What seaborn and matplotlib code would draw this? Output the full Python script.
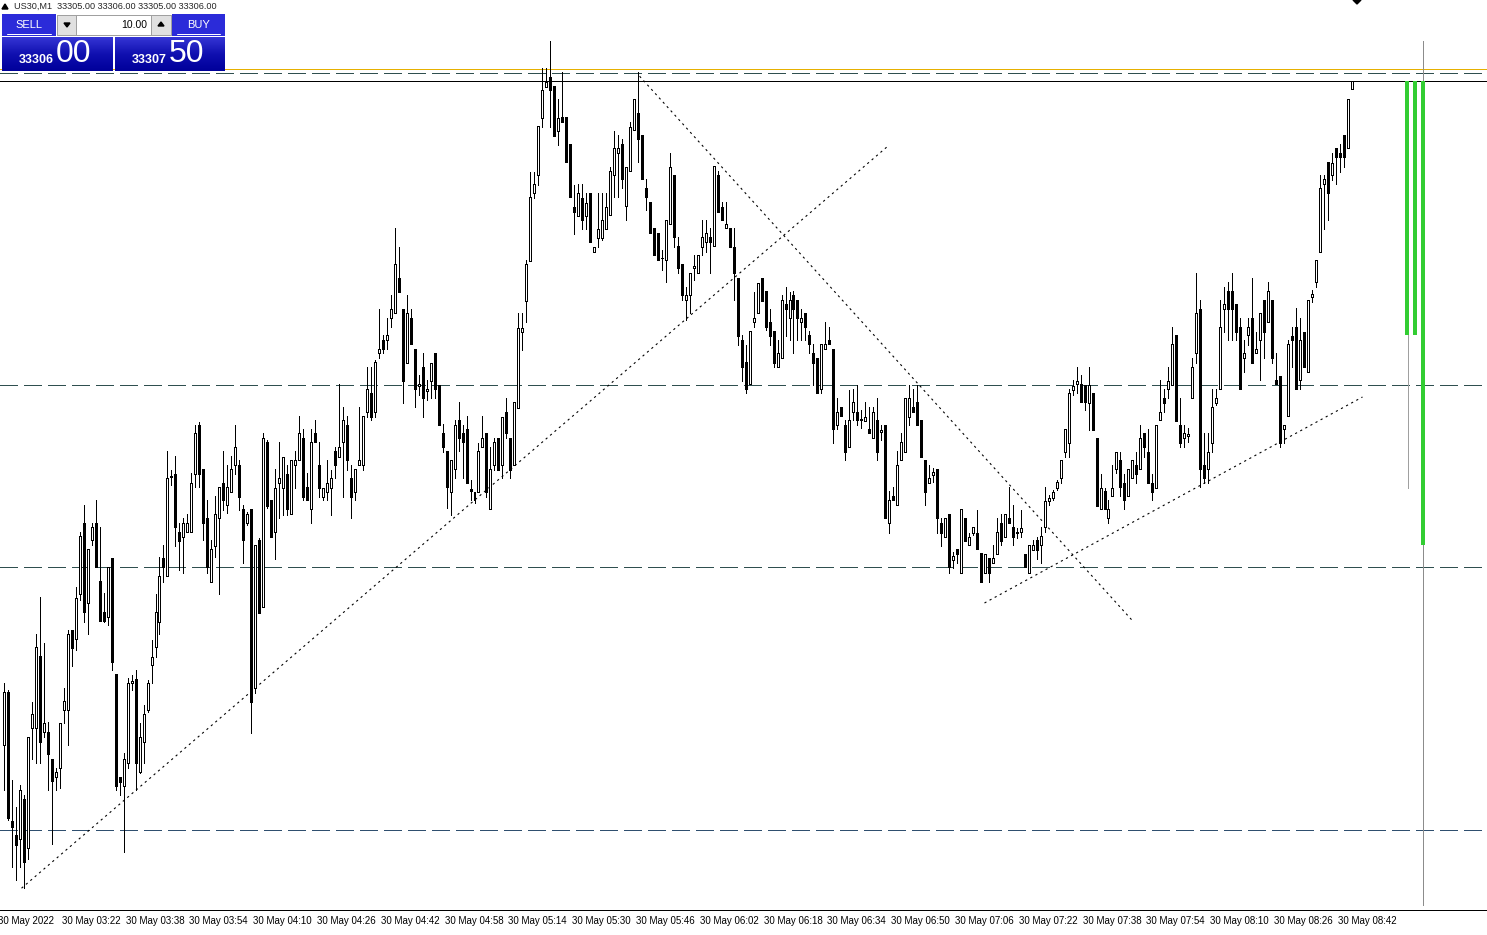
import numpy as np
import pandas as pd
import matplotlib
matplotlib.use("Agg")
import matplotlib.pyplot as plt
import seaborn as sns
from matplotlib.patches import Rectangle, Polygon
from matplotlib.transforms import ScaledTranslation
from matplotlib.colors import LinearSegmentedColormap

# ---------------- data ----------------
symbol = "US30,M1"
header_ohlc = ["33305.00", "33306.00", "33305.00", "33306.00"]
lot_size = "10.00"
bid_big, bid_small = "00", "33306"
ask_big, ask_small = "50", "33307"
bid_price = 33306.00
ask_price = 33307.50

open_ = [
    33223.0, 33229.6, 33213.5, 33211.8, 33211.3, 33216.3, 33210.1, 33225.1, 33225.1, 33234.1,
    33224.6, 33224.6, 33221.3, 33219.0, 33220.1, 33227.4, 33227.4, 33237.4, 33236.3, 33241.9,
    33250.8, 33240.8, 33248.6, 33250.8, 33243.5, 33239.6, 33239.0, 33246.4, 33231.9, 33219.0,
    33217.9, 33220.8, 33230.8, 33231.3, 33219.6, 33223.4, 33227.4, 33233.0, 33235.3, 33238.4,
    33246.4, 33244.1, 33256.5, 33256.9, 33249.6, 33249.0, 33249.6, 33249.6, 33256.9, 33263.0,
    33257.5, 33251.4, 33243.4, 33247.9, 33251.4, 33255.8, 33253.0, 33254.6, 33258.0, 33258.0,
    33252.5, 33250.8, 33252.5, 33230.1, 33248.6, 33240.3, 33260.9, 33253.6, 33249.6, 33255.8,
    33255.1, 33256.9, 33251.9, 33258.0, 33258.6, 33261.4, 33255.3, 33252.5, 33262.0, 33258.0,
    33254.0, 33254.6, 33255.1, 33259.8, 33259.0, 33260.9, 33263.0, 33256.4, 33254.6, 33258.0,
    33258.0, 33264.6, 33267.0, 33264.6, 33272.0, 33273.6, 33273.6, 33276.4, 33277.0, 33281.4,
    33277.5, 33270.8, 33276.4, 33272.5, 33267.9, 33270.3, 33267.3, 33268.5, 33272.0, 33268.0,
    33262.0, 33259.8, 33254.6, 33257.5, 33263.6, 33262.0, 33262.5, 33255.0, 33254.6, 33254.6,
    33260.3, 33262.0, 33252.5, 33258.0, 33261.4, 33258.0, 33264.6, 33261.4, 33258.0, 33265.1,
    33274.6, 33278.5, 33283.5, 33292.0, 33294.3, 33301.4, 33305.3, 33306.5, 33305.4, 33299.8,
    33301.5, 33301.5, 33298.1, 33290.3, 33289.1, 33291.4, 33289.1, 33292.0, 33284.6, 33286.4,
    33286.4, 33287.5, 33289.3, 33294.3, 33297.0, 33298.1, 33290.4, 33294.8, 33299.9, 33302.0,
    33299.3, 33292.6, 33290.9, 33287.6, 33287.0, 33283.9, 33283.6, 33288.1, 33294.3, 33285.4,
    33283.1, 33278.6, 33279.3, 33282.6, 33282.0, 33285.3, 33285.9, 33286.5, 33285.4, 33294.3,
    33290.3, 33287.6, 33287.6, 33285.3, 33281.4, 33273.6, 33270.9, 33268.1, 33275.9, 33277.0,
    33281.4, 33279.8, 33275.9, 33274.8, 33270.3, 33271.4, 33278.1, 33276.4, 33279.3, 33278.6,
    33275.9, 33277.0, 33274.3, 33272.0, 33271.4, 33267.5, 33272.5, 33273.6, 33272.5, 33263.0,
    33265.3, 33263.0, 33260.3, 33264.6, 33264.6, 33263.6, 33263.5, 33262.5, 33261.4, 33263.6,
    33262.1, 33263.0, 33250.8, 33254.1, 33253.0, 33258.6, 33259.6, 33264.0, 33265.3, 33265.9,
    33263.6, 33258.6, 33255.8, 33256.8, 33257.5, 33250.8, 33249.0, 33251.9, 33246.1, 33247.5,
    33244.5, 33251.4, 33248.0, 33249.5, 33249.5, 33247.0, 33244.5, 33246.4, 33245.8, 33246.9,
    33250.8, 33249.0, 33251.4, 33250.3, 33249.5, 33249.6, 33246.9, 33244.5, 33247.4, 33248.6,
    33248.0, 33250.3, 33253.5, 33253.9, 33255.1, 33256.4, 33259.6, 33260.8, 33267.4, 33268.1,
    33268.1, 33268.0, 33265.8, 33267.0, 33261.4, 33252.5, 33254.8, 33251.4, 33254.1, 33257.5,
    33258.6, 33255.8, 33254.1, 33256.4, 33258.0, 33257.5, 33262.0, 33259.6, 33255.8, 33255.1,
    33263.6, 33266.4, 33267.5, 33268.0, 33274.3, 33263.0, 33261.4, 33261.6, 33266.4, 33272.0,
    33277.5, 33258.0, 33257.5, 33260.8, 33265.8, 33267.5, 33277.5, 33279.8, 33279.8, 33278.1,
    33275.3, 33271.4, 33274.3, 33276.4, 33272.0, 33273.6, 33278.6, 33275.9, 33278.6, 33268.6,
    33269.1, 33262.5, 33264.1, 33274.1, 33275.3, 33268.6, 33274.6, 33269.6, 33279.0, 33280.9,
    33284.6, 33293.1, 33295.9, 33294.3, 33297.6, 33297.0, 33299.3, 33297.6, 33305.0,
]
high = [
    33230.8, 33229.9, 33218.6, 33215.3, 33218.0, 33216.8, 33224.0, 33228.4, 33236.9, 33241.5,
    33235.8, 33225.9, 33221.3, 33220.1, 33225.8, 33230.1, 33237.4, 33237.4, 33242.8, 33249.6,
    33253.0, 33247.5, 33250.8, 33253.6, 33250.3, 33242.0, 33245.3, 33246.4, 33231.9, 33219.0,
    33222.0, 33231.4, 33231.8, 33232.4, 33225.8, 33228.0, 33231.1, 33236.1, 33241.9, 33246.5,
    33248.0, 33259.8, 33257.4, 33259.1, 33250.8, 33251.4, 33251.9, 33257.0, 33263.0, 33263.4,
    33257.5, 33253.6, 33248.6, 33254.1, 33255.3, 33259.8, 33258.0, 33259.1, 33263.0, 33258.6,
    33253.0, 33252.1, 33252.5, 33248.0, 33248.9, 33262.0, 33261.1, 33253.6, 33257.5, 33260.9,
    33259.0, 33258.0, 33258.6, 33259.8, 33264.1, 33262.5, 33257.0, 33262.5, 33263.6, 33260.9,
    33255.1, 33258.6, 33257.4, 33260.3, 33268.1, 33265.3, 33264.1, 33258.0, 33257.5, 33265.3,
    33264.1, 33270.3, 33270.3, 33271.1, 33277.5, 33274.3, 33276.4, 33279.3, 33287.6, 33285.3,
    33277.5, 33279.3, 33277.5, 33272.5, 33269.3, 33272.0, 33268.6, 33270.8, 33272.0, 33268.0,
    33263.1, 33259.8, 33258.6, 33263.6, 33265.9, 33263.0, 33264.1, 33256.1, 33254.6, 33260.8,
    33264.1, 33262.0, 33260.3, 33261.4, 33261.4, 33264.0, 33266.4, 33261.4, 33265.9, 33277.0,
    33277.0, 33283.6, 33294.6, 33294.6, 33300.4, 33307.6, 33307.6, 33311.0, 33305.4, 33303.8,
    33307.1, 33301.5, 33298.1, 33293.0, 33293.1, 33293.1, 33292.0, 33292.0, 33285.3, 33292.0,
    33292.0, 33292.0, 33295.3, 33299.8, 33299.3, 33298.8, 33295.3, 33300.9, 33303.8, 33307.1,
    33299.3, 33293.8, 33290.9, 33287.6, 33287.0, 33284.9, 33288.6, 33297.0, 33294.3, 33286.5,
    33283.1, 33280.3, 33282.0, 33284.3, 33284.3, 33288.6, 33288.6, 33287.6, 33295.4, 33294.8,
    33290.9, 33290.9, 33287.6, 33287.6, 33281.4, 33274.3, 33273.0, 33274.8, 33279.6, 33280.8,
    33281.4, 33279.8, 33277.5, 33274.8, 33273.6, 33279.3, 33280.3, 33279.6, 33279.8, 33278.6,
    33277.5, 33277.0, 33274.8, 33273.1, 33271.4, 33273.1, 33275.9, 33275.3, 33272.5, 33266.4,
    33265.3, 33263.6, 33267.4, 33267.5, 33268.0, 33264.9, 33265.9, 33265.3, 33265.3, 33266.4,
    33263.0, 33263.0, 33254.8, 33255.3, 33259.8, 33262.0, 33266.4, 33268.0, 33267.5, 33268.0,
    33263.6, 33258.6, 33258.0, 33257.6, 33257.5, 33251.4, 33251.4, 33251.9, 33247.1, 33247.5,
    33252.5, 33251.4, 33249.5, 33250.3, 33252.4, 33247.0, 33246.9, 33246.4, 33248.0, 33251.4,
    33251.9, 33251.9, 33255.3, 33253.0, 33250.1, 33252.4, 33246.9, 33248.0, 33248.6, 33249.0,
    33250.3, 33255.3, 33254.3, 33254.9, 33256.1, 33258.6, 33262.5, 33267.5, 33268.6, 33270.3,
    33269.3, 33268.0, 33270.3, 33267.0, 33261.4, 33256.9, 33255.1, 33253.6, 33258.0, 33259.6,
    33259.6, 33256.9, 33257.5, 33258.6, 33259.6, 33263.0, 33262.0, 33262.5, 33256.9, 33263.0,
    33268.6, 33267.5, 33270.3, 33275.3, 33274.3, 33266.4, 33263.0, 33262.6, 33271.4, 33282.0,
    33278.6, 33262.0, 33262.0, 33267.5, 33267.5, 33278.6, 33280.3, 33280.9, 33282.0, 33278.1,
    33276.4, 33273.6, 33276.4, 33281.4, 33274.6, 33277.0, 33278.6, 33280.9, 33278.6, 33272.0,
    33269.1, 33263.0, 33273.6, 33275.3, 33277.6, 33276.4, 33274.6, 33278.6, 33279.9, 33283.6,
    33294.3, 33294.3, 33295.9, 33297.0, 33297.6, 33298.1, 33299.3, 33303.8, 33306.0,
]
low = [
    33217.4, 33213.6, 33207.8, 33206.1, 33207.8, 33205.1, 33208.8, 33221.3, 33220.8, 33220.8,
    33224.0, 33217.4, 33210.6, 33217.4, 33217.6, 33225.8, 33223.0, 33232.9, 33234.9, 33241.1,
    33238.4, 33236.9, 33248.0, 33245.3, 33238.5, 33238.4, 33238.0, 33232.4, 33217.4, 33216.8,
    33209.6, 33220.1, 33229.9, 33217.4, 33219.5, 33220.8, 33227.1, 33230.8, 33234.0, 33236.9,
    33243.4, 33244.1, 33255.5, 33247.9, 33244.9, 33244.5, 33249.6, 33249.6, 33255.3, 33255.3,
    33248.6, 33244.5, 33243.4, 33246.5, 33241.9, 33252.4, 33252.0, 33254.6, 33256.9, 33252.4,
    33245.8, 33250.5, 33224.5, 33229.5, 33239.5, 33240.3, 33252.6, 33249.0, 33246.3, 33251.4,
    33251.8, 33251.8, 33251.9, 33255.1, 33258.6, 33253.6, 33253.6, 33250.8, 33260.9, 33254.0,
    33253.6, 33253.6, 33251.8, 33256.4, 33259.0, 33254.0, 33257.4, 33251.4, 33253.6, 33258.0,
    33257.4, 33264.0, 33263.6, 33264.0, 33271.4, 33272.0, 33272.5, 33275.3, 33277.0, 33279.6,
    33265.8, 33270.8, 33273.1, 33265.3, 33266.8, 33264.0, 33266.1, 33266.4, 33266.4, 33263.0,
    33259.6, 33252.6, 33251.8, 33256.4, 33259.8, 33256.4, 33255.8, 33253.6, 33253.3, 33254.6,
    33260.3, 33254.0, 33252.5, 33257.4, 33257.4, 33256.4, 33261.4, 33256.4, 33258.0, 33265.1,
    33272.4, 33275.9, 33283.5, 33291.4, 33293.0, 33300.3, 33305.3, 33300.3, 33299.1, 33298.0,
    33300.9, 33295.9, 33291.5, 33286.9, 33289.1, 33287.5, 33287.5, 33285.9, 33284.6, 33285.3,
    33286.1, 33287.5, 33289.3, 33291.5, 33291.5, 33292.6, 33288.6, 33294.8, 33299.9, 33295.9,
    33293.8, 33289.9, 33287.0, 33284.3, 33283.6, 33282.4, 33280.9, 33288.1, 33285.3, 33282.0,
    33278.6, 33276.1, 33277.0, 33281.1, 33282.0, 33284.3, 33284.6, 33282.0, 33285.4, 33289.6,
    33288.6, 33287.6, 33285.3, 33278.6, 33273.0, 33268.5, 33267.0, 33268.1, 33275.3, 33277.0,
    33278.5, 33274.9, 33273.0, 33270.3, 33270.3, 33271.4, 33274.1, 33273.6, 33272.0, 33273.6,
    33273.6, 33273.6, 33272.0, 33268.0, 33267.0, 33267.0, 33272.5, 33273.1, 33260.8, 33262.5,
    33264.1, 33258.6, 33260.3, 33263.6, 33263.0, 33262.6, 33263.5, 33262.0, 33261.4, 33258.6,
    33261.1, 33251.4, 33249.5, 33253.6, 33253.0, 33258.6, 33259.6, 33263.0, 33264.6, 33263.0,
    33259.0, 33253.0, 33255.8, 33255.9, 33249.5, 33247.9, 33249.0, 33244.5, 33245.1, 33245.8,
    33244.5, 33248.5, 33248.0, 33249.3, 33247.5, 33243.4, 33244.5, 33243.4, 33245.8, 33246.9,
    33248.0, 33249.0, 33250.8, 33248.0, 33248.9, 33249.0, 33245.3, 33244.5, 33247.4, 33246.3,
    33245.8, 33249.6, 33253.0, 33253.6, 33254.9, 33255.8, 33259.0, 33259.0, 33266.8, 33267.0,
    33265.9, 33264.9, 33262.4, 33262.4, 33252.9, 33252.5, 33252.5, 33250.8, 33254.1, 33257.0,
    33254.1, 33252.5, 33254.1, 33256.4, 33255.8, 33257.5, 33259.0, 33255.8, 33253.6, 33255.1,
    33263.6, 33264.6, 33266.4, 33268.0, 33263.5, 33260.3, 33260.3, 33260.9, 33266.4, 33270.8,
    33255.3, 33255.8, 33255.8, 33259.6, 33265.5, 33267.5, 33274.6, 33273.6, 33273.6, 33273.6,
    33267.5, 33269.6, 33273.0, 33270.8, 33272.0, 33268.6, 33271.4, 33275.9, 33270.8, 33268.1,
    33260.3, 33260.8, 33264.1, 33270.3, 33267.5, 33267.5, 33270.3, 33269.6, 33278.4, 33280.3,
    33284.6, 33287.5, 33288.6, 33293.6, 33293.1, 33294.6, 33295.3, 33297.6, 33305.0,
]
close = [
    33229.6, 33213.9, 33212.8, 33210.5, 33217.4, 33208.4, 33224.0, 33226.9, 33235.3, 33223.4,
    33225.8, 33221.9, 33218.5, 33219.6, 33225.8, 33228.5, 33236.9, 33235.1, 33241.4, 33249.1,
    33239.6, 33247.5, 33250.3, 33245.3, 33238.5, 33238.5, 33245.3, 33233.4, 33217.9, 33218.4,
    33221.3, 33230.8, 33231.0, 33220.8, 33224.0, 33226.9, 33230.8, 33234.0, 33239.6, 33244.1,
    33245.3, 33256.4, 33256.6, 33250.3, 33248.5, 33250.8, 33250.8, 33255.8, 33262.0, 33256.9,
    33250.8, 33245.3, 33247.5, 33251.9, 33255.3, 33253.6, 33255.3, 33257.5, 33260.3, 33254.0,
    33248.6, 33251.9, 33228.4, 33248.0, 33239.5, 33261.4, 33252.9, 33249.0, 33255.1, 33256.4,
    33259.0, 33252.5, 33258.6, 33258.6, 33262.0, 33254.0, 33253.6, 33260.9, 33260.9, 33255.1,
    33255.1, 33255.8, 33256.4, 33258.0, 33260.3, 33263.6, 33258.6, 33254.0, 33257.5, 33258.6,
    33264.1, 33267.5, 33264.0, 33270.9, 33272.5, 33272.5, 33274.3, 33277.5, 33283.1, 33279.6,
    33268.5, 33277.0, 33273.1, 33267.5, 33268.1, 33266.4, 33267.5, 33270.8, 33267.5, 33263.0,
    33260.3, 33255.3, 33258.6, 33263.0, 33261.4, 33260.9, 33255.8, 33254.8, 33253.6, 33259.8,
    33261.4, 33254.6, 33257.5, 33260.9, 33257.4, 33264.0, 33262.0, 33257.4, 33265.9, 33275.1,
    33275.1, 33283.1, 33291.5, 33293.1, 33300.4, 33304.9, 33305.9, 33304.9, 33299.1, 33301.4,
    33300.9, 33295.9, 33291.5, 33289.6, 33292.0, 33288.6, 33290.8, 33285.9, 33285.3, 33287.5,
    33288.6, 33290.3, 33294.8, 33297.6, 33297.6, 33293.8, 33295.3, 33300.3, 33303.8, 33298.8,
    33293.8, 33291.5, 33287.0, 33284.3, 33283.6, 33283.9, 33288.6, 33295.3, 33286.5, 33282.6,
    33279.3, 33279.3, 33282.0, 33282.9, 33284.3, 33286.5, 33287.0, 33285.9, 33295.4, 33289.6,
    33288.6, 33288.1, 33285.3, 33282.0, 33274.1, 33270.3, 33267.5, 33274.8, 33276.4, 33280.8,
    33278.5, 33275.3, 33274.1, 33270.8, 33272.0, 33278.6, 33277.5, 33278.6, 33277.5, 33276.4,
    33276.4, 33275.3, 33273.1, 33270.8, 33267.0, 33273.1, 33273.1, 33273.1, 33262.5, 33264.6,
    33264.1, 33259.6, 33263.6, 33265.9, 33263.6, 33263.8, 33264.0, 33262.0, 33264.6, 33259.6,
    33262.4, 33251.4, 33253.6, 33253.6, 33258.0, 33260.9, 33266.4, 33266.4, 33264.6, 33263.0,
    33259.0, 33254.6, 33256.4, 33257.1, 33251.4, 33249.5, 33251.4, 33245.3, 33246.6, 33246.9,
    33252.5, 33248.5, 33249.0, 33250.3, 33247.5, 33243.4, 33246.9, 33244.5, 33246.4, 33249.6,
    33248.5, 33251.9, 33250.8, 33249.0, 33249.6, 33250.1, 33245.3, 33248.0, 33248.0, 33247.4,
    33249.1, 33253.5, 33253.9, 33254.6, 33255.9, 33258.6, 33262.5, 33267.0, 33267.9, 33268.5,
    33265.9, 33265.9, 33268.0, 33262.4, 33252.9, 33255.1, 33252.5, 33252.5, 33255.1, 33259.6,
    33255.3, 33253.6, 33257.5, 33258.6, 33256.9, 33261.4, 33260.3, 33255.8, 33254.6, 33263.0,
    33264.6, 33265.8, 33268.5, 33273.1, 33263.5, 33260.8, 33262.0, 33261.9, 33270.3, 33277.0,
    33257.5, 33256.4, 33259.6, 33265.3, 33266.4, 33275.3, 33278.1, 33277.5, 33277.5, 33274.6,
    33267.5, 33272.0, 33275.3, 33270.8, 33272.5, 33277.0, 33274.6, 33279.8, 33271.4, 33268.1,
    33260.8, 33263.0, 33273.1, 33273.6, 33267.5, 33273.6, 33270.3, 33278.6, 33279.4, 33283.6,
    33292.6, 33293.8, 33292.0, 33295.8, 33296.5, 33296.5, 33296.5, 33303.8, 33306.0,
]

# horizontal level lines
green_levels = [33307.0, 33268.0, 33245.25]
blue_level = 33212.4
# trend lines (bar index, price) start/end
trend_x0 = [4.4, 159.4, 245.9]
trend_p0 = [33205.1, 33306.6, 33240.75]
trend_x1 = [222.0, 282.9, 340.7]
trend_p1 = [33298.0, 33238.6, 33266.5]
# indicator bars drawn to the right of the last bar (bar index, bottom price)
ind_x = [351.9, 353.9, 355.9]
ind_bottom = [33274.25, 33274.25, 33248.0]
ind_thin_bottom = 33255.1
vline_x = 355.9

tick_index = list(range(-1, 336, 16))
tick_labels = ["30 May 2022"] + ["30 May " + t for t in [
    "03:22", "03:38", "03:54", "04:10", "04:26", "04:42", "04:58", "05:14", "05:30",
    "05:46", "06:02", "06:18", "06:34", "06:50", "07:06", "07:22", "07:38", "07:54",
    "08:10", "08:26", "08:42"]]

# ---------------- figure ----------------
sns.set_theme(style="white")
plt.rcParams["font.family"] = ["Liberation Sans", "DejaVu Sans"]
plt.rcParams["lines.scale_dashes"] = False

W, H = 1487, 935
fig = plt.figure(figsize=(W / 100, H / 100), dpi=100, facecolor="white")
PX = 0.72  # one pixel in points
plot_h = 910
ax = fig.add_axes([0, (H - plot_h) / H, 1, plot_h / H])
ax.set_facecolor("white")

x0_idx = 0.175
ax.set_xlim(x0_idx, x0_idx + W / 4.0)
p_top = 33316.125
ax.set_ylim(p_top - plot_h / 8.0, p_top)

df = pd.DataFrame({"o": open_, "h": high, "l": low, "c": close})
df["i"] = np.arange(len(df))
up = df["c"] >= df["o"]
body_lo = np.minimum(df["o"], df["c"])
body_h = (df["c"] - df["o"]).abs()

# level lines
for lv in green_levels:
    ax.axhline(lv, color="#2f4f4f", lw=PX, dashes=(18 * PX, 6 * PX), zorder=1,
               antialiased=False)
ax.axhline(blue_level, color="#2f4f6f", lw=PX, dashes=(18 * PX, 6 * PX), zorder=1,
           antialiased=False)
ax.axhline(ask_price, color="#e6b000", lw=PX, zorder=1, antialiased=False)
ax.axhline(bid_price, color="black", lw=PX, zorder=1, antialiased=False)

# trend lines
for a, b, c, d in zip(trend_x0, trend_p0, trend_x1, trend_p1):
    tl = pd.DataFrame({"x": [a, c], "p": [b, d]})
    ln = sns.lineplot(data=tl, x="x", y="p", ax=ax, color="black", lw=1.1 * PX,
                      zorder=1.5).lines[-1]
    ln.set_dashes((2.2 * PX, 3.6 * PX))
    ln.set_antialiased(True)

# candles
ax.vlines(df["i"], np.minimum(df["l"], body_lo), np.maximum(df["h"], body_lo + body_h),
          color="black", lw=PX, zorder=2, antialiased=False)
ax.bar(df["i"], body_h, bottom=body_lo, width=0.5,
       color=np.where(up, "white", "black"), edgecolor="black", linewidth=PX,
       zorder=3, antialiased=False)

# indicator
ax.vlines([vline_x], ax.get_ylim()[0] + 0.6, 33311.0, color="#8c8c8c", lw=PX, zorder=2,
          antialiased=False)
ax.vlines([ind_x[0] + 0.25], ind_bottom[0], ind_thin_bottom, color="#a0a0a0", lw=PX,
          zorder=2, antialiased=False)
for xx, bt in zip(ind_x, ind_bottom):
    ax.vlines([xx], bt, bid_price, color="#32cd32", lw=4 * PX, zorder=4, antialiased=False)

# axes styling
for s in ["top", "left", "right"]:
    ax.spines[s].set_visible(False)
ax.spines["bottom"].set_color("black")
ax.spines["bottom"].set_linewidth(PX)
ax.set_yticks([])
ax.set_xticks(tick_index)
ax.set_xticklabels(tick_labels, ha="left", fontsize=7, color="black")
ax.tick_params(axis="x", length=2, width=PX, color="black", direction="out", pad=2)
shift = ScaledTranslation(-2 / 100, 0, fig.dpi_scale_trans)
for lbl in ax.get_xticklabels():
    lbl.set_transform(lbl.get_transform() + shift)
ax.set_xlabel("")
ax.set_ylabel("")

# ---------------- overlay (one-click panel) ----------------
ov = fig.add_axes([0, 0, 1, 1], zorder=10)
ov.axis("off")
ov.patch.set_alpha(0)

ov.add_patch(Polygon([[2, 9], [8, 9], [5, 4]], closed=True, color="black"))
ov.text(14, 6.5, symbol + "  " + " ".join(header_ohlc), fontsize=6.6, va="center", ha="left")

btn_blue = "#2b2bd9"
for (x, w, label) in [(2, 54, "SELL"), (172, 53, "BUY")]:
    ov.add_patch(Rectangle((x, 14), w, 22, facecolor=btn_blue, edgecolor="none"))
    ov.plot([x + 5, x + w - 5], [34, 34], color="white", lw=PX)
    ov.text(x + w / 2, 24.5, label, color="white", fontsize=8, ha="center", va="center")
# lot input
ov.add_patch(Rectangle((57, 15), 114, 20, facecolor="white", edgecolor="#a0a0a0", lw=PX))
ov.add_patch(Rectangle((57, 15), 19, 20, facecolor="#e0e0e0", edgecolor="#a0a0a0", lw=PX))
ov.add_patch(Rectangle((151, 15), 20, 20, facecolor="#e0e0e0", edgecolor="#a0a0a0", lw=PX))
ov.add_patch(Polygon([[64, 23], [70, 23], [67, 27]], closed=True, color="black"))
ov.add_patch(Polygon([[158, 26], [164, 26], [161, 22]], closed=True, color="black"))
ov.text(147, 25, lot_size, fontsize=7.5, ha="right", va="center", color="black")

grad = np.linspace(0, 1, 64).reshape(-1, 1)
cm = LinearSegmentedColormap.from_list("mt", ["#3535d5", "#1010b0", "#00009a"])
for (x, w, small, big) in [(2, 111, bid_small, bid_big), (115, 110, ask_small, ask_big)]:
    ov.imshow(grad, cmap=cm, extent=(x, x + w, 71, 37), aspect="auto", zorder=1)
    ov.text(x + 52, 60, small, color="white", fontsize=9, fontweight="bold",
            ha="right", va="center", zorder=2)
    ov.text(x + 54, 54, big, color="white", fontsize=23, ha="left", va="center", zorder=2)

# small shift marker top right
ov.add_patch(Polygon([[1353, 0], [1361, 0], [1357, 4]], closed=True, color="black"))
ov.set_xlim(0, W)
ov.set_ylim(H, 0)

fig.savefig("out.png", dpi=100, facecolor="white")
